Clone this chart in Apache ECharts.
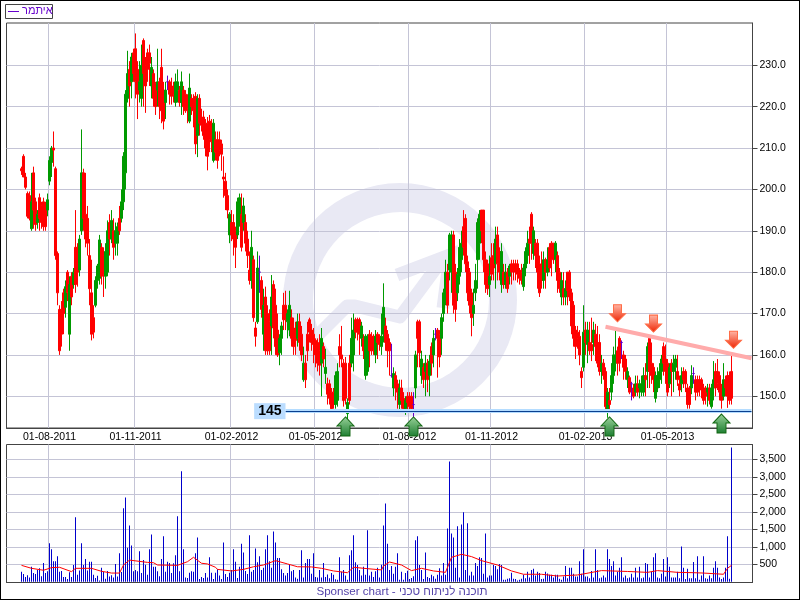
<!DOCTYPE html>
<html><head><meta charset="utf-8">
<style>html,body{margin:0;padding:0;background:#fff}#c{width:800px;height:600px}</style>
<script src="https://cdn.jsdelivr.net/npm/echarts@6/dist/echarts.min.js"></script>
</head><body><div id="c"></div>
<script>
const seriesName = 'איתמר';
const footerText = 'Sponser chart - תוכנה לניתוח טכני';
const slotCount = 373;
const firstSlot = 7;
const tickSlots = [21,64,112,154,201,242,289,330];
const tickLabels = ['01-08-2011','01-11-2011','01-02-2012','01-05-2012','01-08-2012','01-11-2012','01-02-2013','01-05-2013'];
const priceTicks = [150,160,170,180,190,200,210,220,230];
const volumeTicks = [500,1000,1500,2000,2500,3000,3500];

// [open, close, low, high]
const ohlc2011 = [
[205,204.5,203.5,205.5],[208,203,203,208.5],[203,200.5,200,204],[199,193.5,193,199.5],[198.5,193,192.5,199.5],[190.5,197,190,204],[204,195,190.5,205.5],[197,191.5,190,198],[192,194,190.5,195],[198,193,190,199],[196,192,190.5,197],[197,191,190,198],[195,191,190,197],[195,197.5,193.5,199],[202,207,201,208],[206.5,210,203,210.5],[210,209.5,205.5,214],[205,184,183,205.5],[184.5,175,172,185],[171,161,160,172],[171,165,162,173],[175,170,165,176],[171.5,176.5,169,178],[180,175,173,180.5],[165,177,161,179],[179,174,172,180],[177,180,176,181],[186,177,175,195],[186,180,176.5,187],[180.5,188,179,189],[190,204,189,214.5],[204,193,190,205],[194,188,186,204],[193,187,184,196],[184,176,172,188],[175,165,163.5,183],[169,165.5,164,172],[172,178,171.5,179],[178,181.5,176,182],[178.5,187.8,177,189],[186,179,177,187],[184,179.5,174,186],[179,185,176,187],[180,190,179,192.5],[192,188,184,194],[188,192.5,187,195],[190,186,183,193],[187,190,184,192],[187,191,184,192],[193,190,189,196],[193,197,192,200],[197,208,195,209],[204,223,200,224],[222,228,221,233.5],[229,225,220,231],[226,232,222,233],[233,228,226,234],[234,226,222,237.7],[229,223,217,231],[224,226,221,231],
[222,230,220,235],[236,228,220,236.5],[230,225,218.5,232],[233,229,226,234],[233,230.5,225,235],[225,229.5,222,232],[228,222,220,229],[225.5,220,218,226],[224,226,220,234],[226,220,217,227],[229.5,219,216,234],[224,216.5,214.5,226],[221,224,217,226],[226,226,224,227.5],[226,223,220.5,226.5],[224.5,222.5,220.5,227],[225,223,221,226],[221,226,220,228],[224,226,221,229],[224,221,220,225],[221,226,218,228.5],[224,220,218,225],[223,219,218.5,224],[221,219.5,216,223],[216.5,224.5,216,228],[222,220,218,223],[222,219,215,223],[222.5,211,208.5,223.5],[213,222,207.8,223],[222,216,213,223],[217,215.5,214,219.5],[217.5,213,212,219],[216,210,208,217],[216,208,204.6,217.5],[216.5,212,209,218],[216,211.5,209,217],[207,216,206.5,217],[212,209,207,214],[212,207,205,214],[212,209.5,208,214],[211,208.5,204.5,212],[203,202.5,198,208],[202,198.5,195,204],[198.5,195,193,200]];
const ohlc2012a = [
[189,194,187,194.5],[192,189,187.5,195],[192,188,184,194],[190,186,181,191],[189,197,188,198],[192,198,191,199],[194,186,185,199],[192,196,190,198],[192,187,185,194],[188,184,181,190],[180.5,178,177,185],[178,186,176,190],[183,169,168,184],[166.5,164.5,162,168],[168,181,167.5,185],[180,180,175,184],[178,171,169,179],[165,172,161,176],[174,161,160,176.5],[170,161,160,172],[168,161,160,171],[167,174,160,179.3],[177,166.5,164,178],[172,162,160,176],[166,160,159.5,170],[160.5,164,157.5,165],[164,167,160,168],[172,168.5,166,175],[172,168.5,166,175.5],[168,170,164,171],[166,172,164.5,175.5],[169,164,162,171],[166.5,162,160,169],[166,163.5,160,168],[164,168,162,170],[168,163,161,170],[165,160,158.5,167],[154,158,153.5,162],[158,154,152,160],[165,161,158.5,168],[168.5,165.5,163,169],[166,163,161,167.5],[165,162.5,158,166.5],[163.5,160,157,164],[163,158,156,164],[161,157.5,155,165],[158,164,150,166.5],[162,159,157,163],[155.5,157,153,161.5],[153,150.5,148,154.5],[153,149.5,148,154],[151,147,146.5,152],[151,148,147,152],[148,155,147,156],[149,156,147.5,158],[162,160,157,165],[160,159,157,167],[158,149,147.5,159],[158,149.5,148,159.5],[145.8,148.5,144.5,149.5],[158,149,148,160],[158,164,157,169],[160,166,156,170],[168.5,165.5,164,169],[168.5,165.5,163.5,169],[168.5,165,160,169],[164,167,162,168],[164,161,159,165],[155,164.5,154,165],[156,164.5,155,165],[165,161,157,166],[164.5,161,160,165.5],[164.5,161,160,165],[160,164.5,158,166],[165,163,159,165.5],[164.5,162.5,161,165],[162,164.5,160,170],[165,171.5,163,177.3],[167,163,161,169],[165,161,157,166],[163,161,155,164],[155,155,154.5,162.7],[152,155.5,150,157],[155,152,149,156],[153,151,147,154],[148,152,146.5,154],[152,149,147,154],[149.5,147,146.5,151],[147,149,145.5,150],[150,148.5,146.5,151],[150,147.5,146,151],[150,147,146,151],[148,148,145,151]];
const ohlc2012b = [
[152,160,149.5,161],[168,164,157,168.5],[168,160.5,157,168.5],[155,159,153,161],[157,154,152,158],[156,158,150,160],[158,154,151,159],[155,158.5,150,160],[162,158,155,163],[160,164,157,166],[165,165,163.5,166.5],[166,164,154.5,166.5],[165,159.5,157,166],[164,169,160,170],[170,175,168,176],[174,180,172,183],[180,172,170,182],[180.5,189,178,189.5],[180,189,175,190],[189,172,170,190],[180,171,168,182],[175,179.5,173,181],[179,186,177,188],[183,187,180,190],[191,186,184,195],[193,182,180,194],[182.5,175,173,184],[180,172,170,181],[175,169,164.5,176],[170,172,167,176],[175,178,173,182],[183,192,176,193],[187,194,183,195],[195,190,187,195],[195,183,180,195],[183,177,175,185],[182,176,174.5,183],[177,179,174,184],[183.5,179.5,178,187],[184,181,178,187],[182,188,176,191],[189,182,178,191],[185,180,178,186],[177,185,175,187],[180,177,176,182],[177,180,176,182],[180,176,175,181],[179,181.5,177,182],[182,180,177,183],[182,180.5,178,183],[182,180,178,183],[182,179.5,177.5,183],[180.5,178.5,177,181],[180,178,177,182],[176.5,181,175.5,182],[181,185,179,186],[184,187,182,190],[188,187,182,191],[194,187,183,194.5],[184.5,190,183,191],[187,184,181,188],[187,180,176,188],[182,175,174,184],[180.5,178,176,185],[178,183,176,185],[183,180,176,183.5],[180,183,179,186],[186,181,180,187],[187,183,179,187.5],[187,184.5,182,187],[183,187,180,187.5],[184,178,175,185],[180,176,175,181],[174,178,172,180],[176,174,172,180],[174,176,172,178],[180,175.5,172,180],[180,174,173,180.5],[175,167,165,176],[172,164,162,173],[166,162,159,167],[165.5,164,161.5,167],[164.5,160,157.5,166],[156,154.5,152,157]];
const ohlc2013 = [
[157,165.5,156,172],[166,163,160,168],[162.5,166,158,168],[163,161,160,168],[162.5,161,158.5,169],[163,166,160,168],[165,162,158.5,167.5],[163,158,157,167],[163,156,155,165],[156,158,153,160],[158,155,154,159],[156,147.5,146,157],[146.5,151,144.8,152],[149,148,146,152],[151,155,149,158],[155,160,153,162],[158,160,156,166.5],[161,158,155,162],[164,158,156,164.5],[163,163,159,163.5],[160,157,154,161],[159,156,154,160],[154,156,152,157],[154.5,151,150.5,155],[153,153,149,153.5],[152,150,149.5,153],[151,153,150,155],[153,151,150,155],[152,153,149.5,154],[151,153,150,155],[151,155,150,157],[155,154,150,158],[156,162,152,163],[164,156,152,164.5],[158,155,153,163],[157,154,151,158],[149.5,155,148.5,156],[152,155,151,157],[154,156,152,158],[156,159,153,160],[162,158,155,163],[159,156,153,162.5],[158,151,150,159],[153,157,152,158],[158,156,150,159],[156,158,151,160],[157,159,154,160],[156,154,152.5,160],[153,151.5,150,155],[153,155,151,157],[156,154,152,157],[156,153,151,156.5],[152,148,147,153],[152,148,147,152.5],[152,155,150.5,157.5],[155.5,155.5,153,157],[154,151,149,155],[154,151,150,155],[154,151.5,150,155],[154,152,149.5,154.5],[152,149,148,153],[152,150,148,152.5],[151,152,147.5,153],[152,149,148,153],[147.5,152,147,153],[152,154,149,158.5],[156,152,150,158],[156,153,151.5,159],[155,151,149,156],[152,149,147,153],[150,154,149,158],[154,152,150,155],[155,150,147.2,156],[155,149,148,156],[156,149.5,148,160.5]];

const volumeA = [
290,220,140,190,120,430,250,220,340,390,160,540,250,300,1100,930,590,590,730,290,310,140,140,80,270,
140,480,1845,200,320,1100,480,650,320,570,570,200,110,170,40,400,280,90,310,150,190,120,510,150,815,
280,2100,2410,970,1610,1040,300,340,300,870,250,620,490,200,930,1355,430,430,300,160,650,1300,290,570,540,
250,530,760,1870,300,3160,930,120,110,260,300,290,815,1265,80,140,110,250,120,700,260,80,260,360,180];
const volumeB = [
80,1120,220,140,260,340,930,570,110,430,1090,840,310,220,1330,290,340,950,560,730,340,400,930,1330,590,
400,1440,1120,680,680,360,250,180,250,480,300,340,120,90,340,900,120,540,650,650,230,815,140,120,340,
120,540,140,210,100,250,200,70,60,700,290,340,180,60,760,900,1330,560,480,340,180,430,200,1470,180,
290,140,300,400,120,490,1610,2240,1090,340,450,230,430,815,60,290,60,250,315,80,110,160,1190,1300,480];
const volumeC = [
340,80,840,140,110,200,160,90,200,390,180,540,200,1525,3440,1380,1265,400,1585,120,1640,1985,340,1670,180,
290,180,540,450,700,680,230,1380,120,180,180,480,450,360,510,480,60,60,90,100,260,90,80,40,60,
90,200,100,290,120,340,370,180,290,250,80,90,290,240,200,200,120,200,200,90,60,150,450,100,400,
400,230,150,150,590,230,930,150,150,100,310,120,930,340,100,120,180,120,930,650,450,590,180,290,400,
700,120,180,100,120,230,120,400,120,430,100,120,540,510,120,290,700,815,120,100,230,650,150,700,430,
120,120,120,290,100,1010,400,80,370,100,100,565,100,730,60,180,730,100,90,180,100,400,590,400,120,
80,120,400,1300,90,3840];

const maSlots = [7,12,18,22,26,32,34,42,47,52,56,58,61,70,73,75,85,90,93,97,100,104,105,112,118,123,128,134,140,145,152,157,163,170,173,180,187,188,191,197,202,207,213,219,222,227,232,237,245,252,258,267,275,285,288,297,310,320,325,335,343,348,358,360,362];
const maValues = [470,385,330,405,415,290,385,385,300,250,250,480,620,555,545,480,470,575,700,530,510,415,355,310,355,430,480,605,510,430,425,385,310,260,415,375,340,450,565,480,320,385,310,270,700,785,720,605,480,310,215,215,165,195,225,320,295,270,320,270,260,250,215,385,470];

const supportLevel = 146.4, supportLabel = '145';
const supportSlots = [139,372];
const resistSlots = [299,372], resistValues = [166.8,159.2];
const buySlots = [169,203,301,357], buyValues = [145,145,145,145.7];
const sellSlots = [305,323,363], sellValues = [168,165.5,161.6];

const ohlc = [].concat(ohlc2011,ohlc2012a,ohlc2012b,ohlc2013);
const volumes = [].concat(volumeA,volumeB,volumeC);
const categories = Array.from({length:slotCount},(_,i)=>{const k=tickSlots.indexOf(i);return k>=0?tickLabels[k]:'s'+i;});
const isTick = i => tickSlots.includes(i);
const FONT = 'Liberation Sans';
const candleData = Array.from({length:firstSlot},()=>['-','-','-','-']).concat(ohlc.map(r=>r.slice()));
const volumeData = Array.from({length:firstSlot},()=>'-').concat(volumes);
const maData = maSlots.map((s,i)=>[s,maValues[i]]);
const grad = (a,b)=>({type:'linear',x:0,y:0,x2:0,y2:1,colorStops:[{offset:0,color:a},{offset:1,color:b}]});
const UP = 'path://M8.5,0 L17,9 L13,9 L13,19 L4,19 L4,9 L0,9 Z';
const DOWN = 'path://M4,0 L12,0 L12,9 L16,9 L8,17 L0,9 L4,9 Z';
const gridLine = {show:true,lineStyle:{color:'#c4c4d6',width:1}};

const chart = echarts.init(document.getElementById('c'),null,{renderer:'canvas',width:800,height:600});
chart.setOption({
 animation:false,
 backgroundColor:'#fff',
 textStyle:{fontFamily:FONT},
 grid:[
  {left:6.5,right:47.5,top:23,height:405,show:true,borderColor:'#444',borderWidth:1,backgroundColor:'transparent'},
  {left:6.5,right:47.5,top:444.5,height:138,show:true,borderColor:'#444',borderWidth:1,backgroundColor:'transparent'}
 ],
 xAxis:[
  {type:'category',gridIndex:0,data:categories,boundaryGap:true,
   axisLine:{lineStyle:{color:'#444'}},
   axisTick:{alignWithLabel:true,interval:i=>isTick(i),length:2,lineStyle:{color:'#444'}},
   splitLine:Object.assign({interval:i=>isTick(i)},gridLine),
   axisLabel:{interval:i=>isTick(i),color:'#000',fontSize:10.5,fontFamily:FONT,margin:4,hideOverlap:false}},
  {type:'category',gridIndex:1,data:categories,boundaryGap:true,
   axisLine:{onZero:false,lineStyle:{color:'#444'}},
   axisTick:{show:false,alignWithLabel:true,interval:i=>isTick(i)},
   splitLine:Object.assign({interval:i=>isTick(i)},gridLine),
   axisLabel:{show:false}}
 ],
 yAxis:[
  {type:'value',gridIndex:0,position:'right',min:142.33,max:240.22,scale:true,
   axisLine:{show:true,lineStyle:{color:'#444'}},
   axisTick:{show:true,length:5,customValues:priceTicks,lineStyle:{color:'#444'}},
   splitLine:gridLine,
   axisLabel:{customValues:priceTicks,color:'#000',fontSize:10.5,fontFamily:FONT,margin:7,formatter:v=>Number(v).toFixed(1)}},
  {type:'value',gridIndex:1,position:'right',min:-20,max:3923,
   axisLine:{show:true,lineStyle:{color:'#444'}},
   axisTick:{show:true,length:5,customValues:volumeTicks,lineStyle:{color:'#444'}},
   splitLine:gridLine,
   axisLabel:{customValues:volumeTicks,color:'#000',fontSize:10.5,fontFamily:FONT,margin:7,formatter:v=>Number(v).toLocaleString('en-US')}}
 ],
 series:[
  {name:seriesName,type:'candlestick',xAxisIndex:0,yAxisIndex:0,data:candleData,barWidth:3,
   itemStyle:{color:'#009900',color0:'#ff0000',borderColor:'#009900',borderColor0:'#ff0000',borderColorDoji:'#6600cc',borderWidth:1},
   markLine:{silent:true,symbol:'none',animation:false,
    data:[
     [{coord:[supportSlots[0],supportLevel],lineStyle:{color:'#b4dcff',width:4,type:'solid'},label:{show:false}},{coord:[supportSlots[1],supportLevel]}],
     [{coord:[supportSlots[0],supportLevel],lineStyle:{color:'#0a3f8f',width:1,type:'solid'},
       label:{show:true,position:'start',distance:0,formatter:supportLabel,fontFamily:FONT,fontSize:14,fontWeight:'bold',color:'#000',backgroundColor:'#bbddff',padding:[1,4,1,4]}},{coord:[supportSlots[1],supportLevel]}],
     [{coord:[resistSlots[0],resistValues[0]],lineStyle:{color:'#ffabab',width:4,type:'solid'},label:{show:false}},{coord:[resistSlots[1],resistValues[1]]}]
    ]},
   markPoint:{silent:true,animation:false,label:{show:false},
    data:[
     ...buySlots.map((s,i)=>({coord:[s,buyValues[i]],symbol:UP,symbolSize:[17,19],symbolOffset:[0,9.5],
       itemStyle:{color:grad('#9ad29a','#1c7d30'),borderColor:'#116611',borderWidth:1}})),
     ...sellSlots.map((s,i)=>({coord:[s,sellValues[i]],symbol:DOWN,symbolSize:[16,17],symbolOffset:[0,-8.5],
       itemStyle:{color:grad('#ffb8a8','#ee2200'),borderColor:'#ff6a44',borderWidth:1}}))
    ]}
  },
  {name:'volume',type:'bar',xAxisIndex:1,yAxisIndex:1,data:volumeData,barWidth:1,itemStyle:{color:'#0000cc'}},
  {name:'volumeMA',type:'line',xAxisIndex:1,yAxisIndex:1,data:maData,symbol:'none',z:3,lineStyle:{color:'#ff0000',width:1}}
 ],
 graphic:[
  {type:'circle',z:-20,silent:true,shape:{cx:400,cy:300,r:117},style:{fill:'#e9e9f4'}},
  {type:'circle',z:-19,silent:true,shape:{cx:401,cy:300,r:88},style:{fill:'#fff'}},
  {type:'polyline',z:-18,silent:true,shape:{points:[[318,335],[347,306],[355,306],[400,317],[442,260]]},style:{fill:'none',stroke:'#e9e9f4',lineWidth:13,lineJoin:'round',lineCap:'round'}},
  {type:'polyline',z:-18,silent:true,shape:{points:[[397,275],[450,255],[443,308]]},style:{fill:'none',stroke:'#e9e9f4',lineWidth:13,lineJoin:'miter'}},
  {type:'rect',z:50,silent:true,shape:{x:5.5,y:4.5,width:47,height:14},style:{fill:'#fff',stroke:'#444',lineWidth:1}},
  {type:'line',z:51,silent:true,shape:{x1:8,y1:11.5,x2:19,y2:11.5},style:{stroke:'#6600cc',lineWidth:1}},
  {type:'text',z:51,silent:true,x:22,y:5,style:{text:seriesName,fill:'#6600cc',font:'11px "Liberation Sans"'}},
  {type:'text',z:51,silent:true,x:402,y:586,style:{text:footerText,fill:'#5544aa',font:'11.6px "Liberation Sans"',textAlign:'center'}},
  {type:'rect',z:60,silent:true,shape:{x:0,y:0,width:800,height:600},style:{fill:'none',stroke:'#000',lineWidth:2}}
 ]
});
</script></body></html>
